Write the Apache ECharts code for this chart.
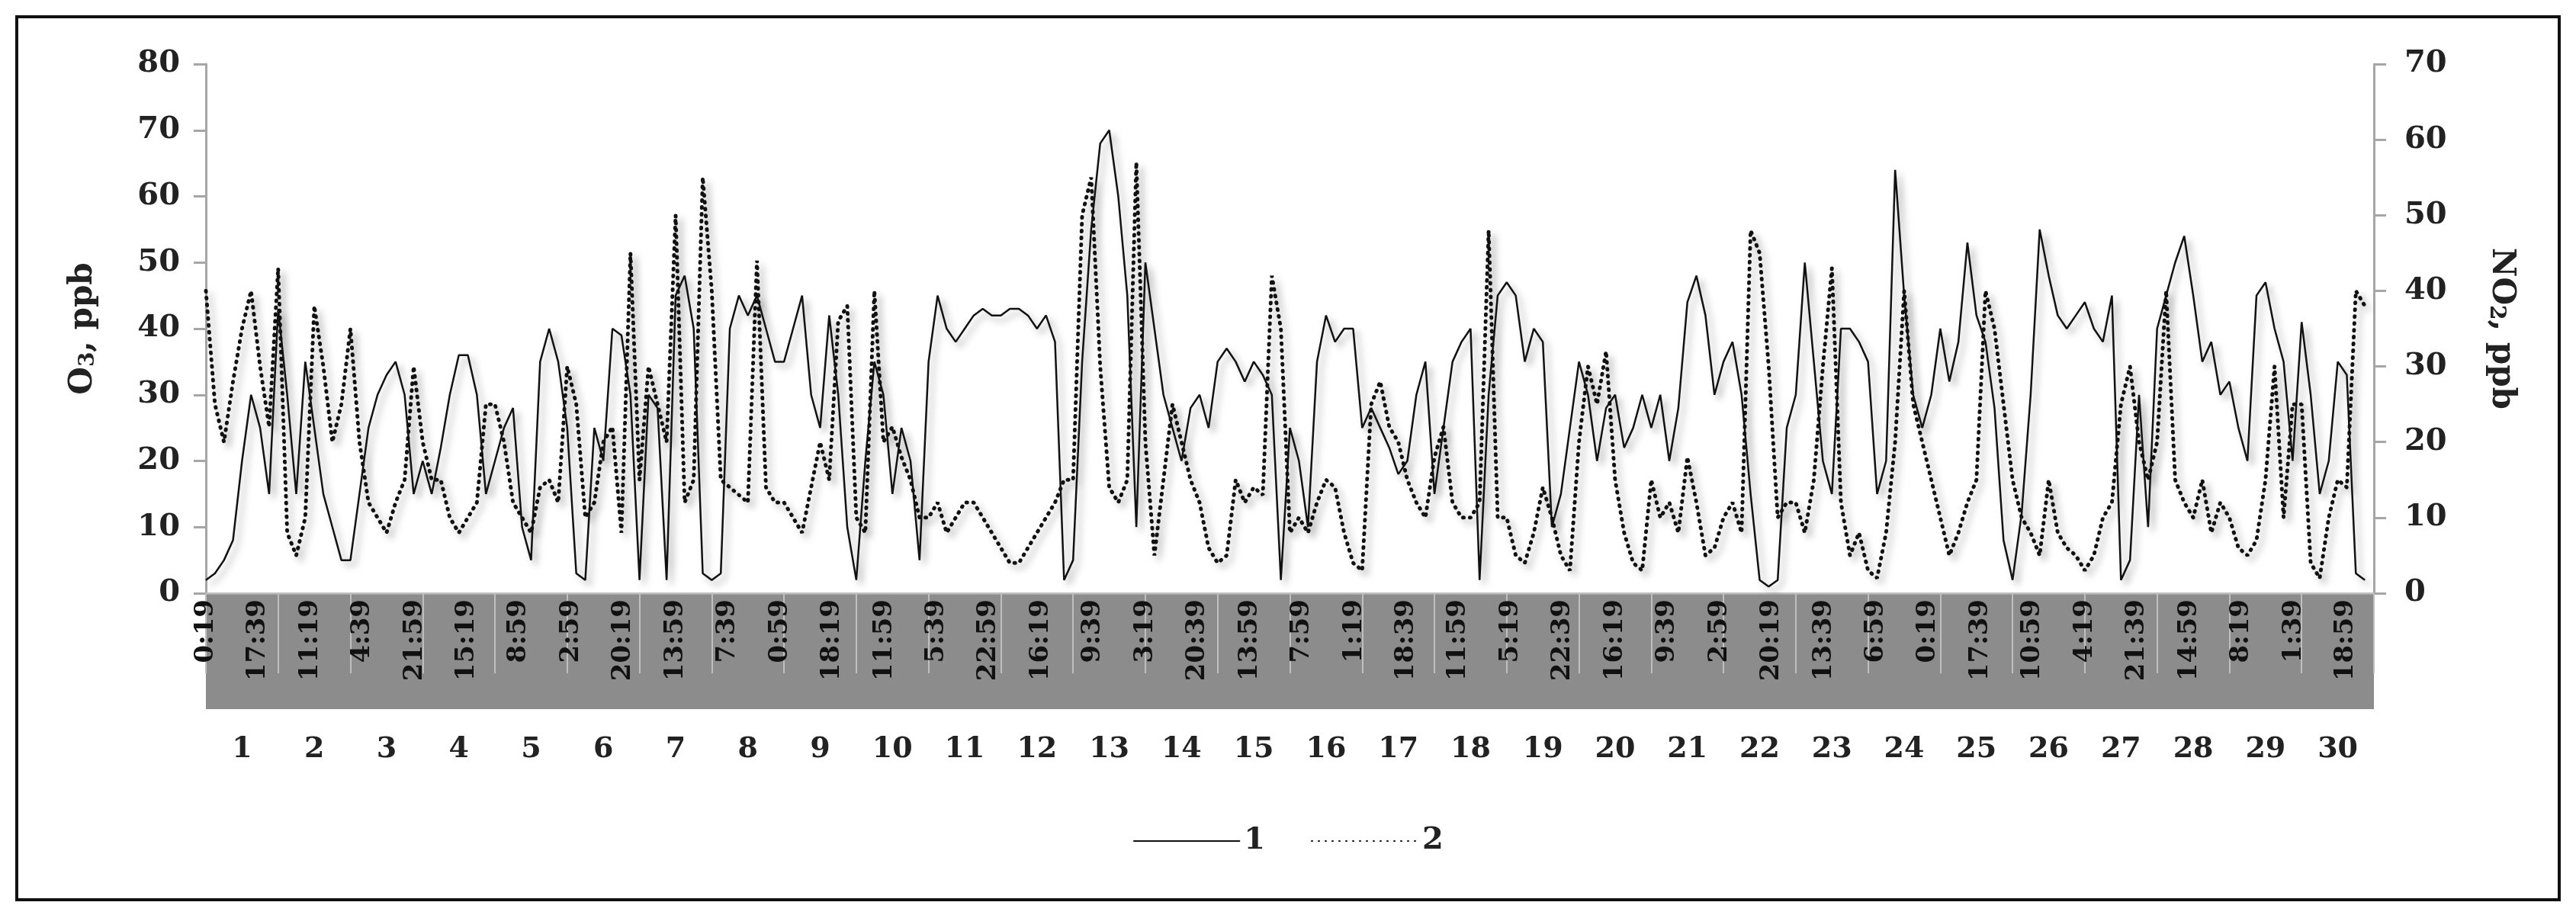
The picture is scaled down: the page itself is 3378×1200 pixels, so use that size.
<!DOCTYPE html>
<html>
<head>
<meta charset="utf-8">
<title>O3 / NO2</title>
<script src="https://cdn.jsdelivr.net/npm/echarts@6/dist/echarts.min.js"></script>
<style>
  html, body { margin: 0; padding: 0; background: #fff; }
  #main { width: 3378px; height: 1200px; }
</style>
</head>
<body>
<div id="main"></div>
<script>
// 3-hour readings, 8 per day, starting at 0:19 of day 1
var o3 = [
  2,3,5,8,20,30,25,15,      43,30,15,35,25,15,10,5,
  5,15,25,30,33,35,30,15,   20,15,22,30,36,36,30,15,
  20,25,28,10,5,35,40,35,   25,3,2,25,20,40,39,30,
  2,30,28,2,45,48,40,3,     2,3,40,45,42,45,40,35,
  35,40,45,30,25,42,30,10,  2,20,35,30,15,25,20,5,
  35,45,40,38,40,42,43,42,  42,43,43,42,40,42,38,2,
  5,35,55,68,70,60,45,10,   50,40,30,25,20,28,30,25,
  35,37,35,32,35,33,30,2,   25,20,10,35,42,38,40,40,
  25,28,25,22,18,20,30,35,  15,25,35,38,40,2,30,45,
  47,45,35,40,38,10,15,25,  35,30,20,28,30,22,25,30,
  25,30,20,28,44,48,42,30,  35,38,30,15,2,1,2,25,
  30,50,35,20,15,40,40,38,  35,15,20,64,45,30,25,30,
  40,32,38,53,42,38,28,8,   2,12,30,55,48,42,40,42,
  44,40,38,45,2,5,30,10,    40,45,50,54,45,35,38,30,
  32,25,20,45,47,40,35,20,  41,30,15,20,35,33,3,2
];
var no2 = [
  40,25,20,28,35,40,30,22,  43,8,5,10,38,30,20,25,
  35,20,12,10,8,12,15,30,   20,15,15,10,8,10,12,25,
  25,20,12,10,8,14,15,12,   30,25,10,12,20,22,8,45,
  15,30,25,20,50,12,15,55,  40,15,14,13,12,44,14,12,
  12,10,8,14,20,15,36,38,   10,8,40,20,22,18,15,10,
  10,12,8,10,12,12,10,8,    6,4,4,6,8,10,12,15,
  15,50,55,30,14,12,15,57,  20,5,15,25,20,15,12,6,
  4,5,15,12,14,13,42,35,    8,10,8,12,15,14,8,4,
  3,25,28,22,20,15,12,10,   18,22,12,10,10,12,48,10,
  10,5,4,8,14,10,5,3,       20,30,25,32,15,8,4,3,
  15,10,12,8,18,12,5,6,     10,12,8,48,45,30,10,12,
  12,8,15,30,43,12,5,8,     3,2,8,20,40,25,20,15,
  10,5,8,12,15,40,35,25,    15,10,8,5,15,8,6,5,
  3,5,10,12,25,30,20,15,    20,40,15,12,10,15,8,12,
  10,6,5,7,15,30,10,25,     25,4,2,10,15,14,40,38
];
var stepHours = 3;
var timeLabels = ['0:19','17:39','11:19','4:39','21:59','15:19','8:59','2:59','20:19','13:59',
  '7:39','0:59','18:19','11:59','5:39','22:59','16:19','9:39','3:19','20:39','13:59','7:59',
  '1:19','18:39','11:59','5:19','22:39','16:19','9:39','2:59','20:19','13:39','6:59','0:19',
  '17:39','10:59','4:19','21:39','14:59','8:19','1:39','18:59'];
var labelStepHours = 1040 / 60;
var days = [];
for (var d = 1; d <= 30; d++) days.push(String(d));

var toPairs = function(arr) {
  return arr.map(function(v, i) { return [i * stepHours, v]; });
};

var font = 'DejaVu Serif';
var gridL = 270, gridR = 3378 - 3113, gridT = 84, gridB = 1200 - 778;
var txt = '#222';

var chart = echarts.init(document.getElementById('main'));
chart.setOption({
  backgroundColor: '#fff',
  animation: false,
  textStyle: { fontFamily: font, color: txt, fontWeight: 'bold' },
  graphic: [
    { type: 'rect', z: -1, shape: { x: 22, y: 22, width: 3334, height: 1158 },
      style: { fill: '#fff', stroke: '#111', lineWidth: 4 } },
    { type: 'rect', z: 0, shape: { x: gridL, y: 778, width: 3378 - gridL - gridR, height: 152 },
      style: { fill: '#8c8c8c' } }
  ],
  grid: { left: gridL, right: gridR, top: gridT, bottom: gridB },
  legend: {
    bottom: 72, left: 'center', itemWidth: 140, itemHeight: 10, itemGap: 60,
    itemStyle: { color: 'transparent', borderWidth: 0 },
    textStyle: { fontSize: 40, fontFamily: font, fontWeight: 'bold', color: txt },
    data: ['1', '2']
  },
  xAxis: [
    {
      type: 'value', min: 0, max: 720, interval: labelStepHours,
      axisLine: { show: true, lineStyle: { color: '#a6a6a6', width: 3 } },
      axisTick: { show: false }, splitLine: { show: false }, splitArea: { show: false },
      axisLabel: {
        rotate: 90, margin: 8, fontSize: 34, fontWeight: 'bold', color: '#111',
        fontFamily: font, showMaxLabel: false,
        formatter: function(v) { return timeLabels[Math.round(v / labelStepHours)] || ''; }
      }
    },
    {
      type: 'category', position: 'bottom', offset: 152, data: days, boundaryGap: true,
      axisLine: { show: true, lineStyle: { color: '#bfbfbf', width: 2 } },
      axisTick: { show: true, length: 105, interval: 0, lineStyle: { color: '#bfbfbf', width: 2 } },
      splitLine: { show: false },
      axisLabel: { margin: 34, fontSize: 38, fontWeight: 'bold', color: txt, fontFamily: font, interval: 0 }
    }
  ],
  yAxis: [
    {
      type: 'value', min: 0, max: 80, interval: 10, position: 'left',
      name: '{a|O}{s|3}{a|, ppb}', nameLocation: 'middle', nameGap: 140, nameRotate: 90,
      nameTextStyle: { rich: {
        a: { fontSize: 42, fontWeight: 'bold', fontFamily: font, color: txt },
        s: { fontSize: 28, fontWeight: 'bold', fontFamily: font, color: txt, verticalAlign: 'bottom', padding: [14, 0, 0, 0] }
      } },
      axisLine: { show: true, lineStyle: { color: '#a6a6a6', width: 3 } },
      axisTick: { show: true, length: 16, lineStyle: { color: '#a6a6a6', width: 3 } },
      splitLine: { show: false },
      axisLabel: { fontSize: 40, fontWeight: 'bold', color: txt, margin: 34, fontFamily: font }
    },
    {
      type: 'value', min: 0, max: 70, interval: 10, position: 'right',
      name: '{a|NO}{s|2}{a|, ppb}', nameLocation: 'middle', nameGap: 146, nameRotate: -90,
      nameTextStyle: { rich: {
        a: { fontSize: 42, fontWeight: 'bold', fontFamily: font, color: txt },
        s: { fontSize: 28, fontWeight: 'bold', fontFamily: font, color: txt, verticalAlign: 'bottom', padding: [14, 0, 0, 0] }
      } },
      axisLine: { show: true, lineStyle: { color: '#a6a6a6', width: 3 } },
      axisTick: { show: true, length: 16, lineStyle: { color: '#a6a6a6', width: 3 } },
      splitLine: { show: false },
      axisLabel: { fontSize: 40, fontWeight: 'bold', color: txt, margin: 40, fontFamily: font }
    }
  ],
  series: [
    {
      name: '1', type: 'line', xAxisIndex: 0, yAxisIndex: 0, data: toPairs(o3),
      symbol: 'none', z: 3,
      itemStyle: { color: '#111' },
      lineStyle: { color: '#111', width: 2.5, shadowColor: 'rgba(0,0,0,0.35)', shadowBlur: 10, shadowOffsetX: 6, shadowOffsetY: 6 }
    },
    {
      name: '2', type: 'line', xAxisIndex: 0, yAxisIndex: 1, data: toPairs(no2),
      symbol: 'none', z: 2,
      itemStyle: { color: '#111' },
      lineStyle: { color: '#111', width: 5, type: [1, 8], cap: 'round', shadowColor: 'rgba(0,0,0,0.35)', shadowBlur: 10, shadowOffsetX: 6, shadowOffsetY: 6 }
    }
  ]
});
</script>
</body>
</html>
